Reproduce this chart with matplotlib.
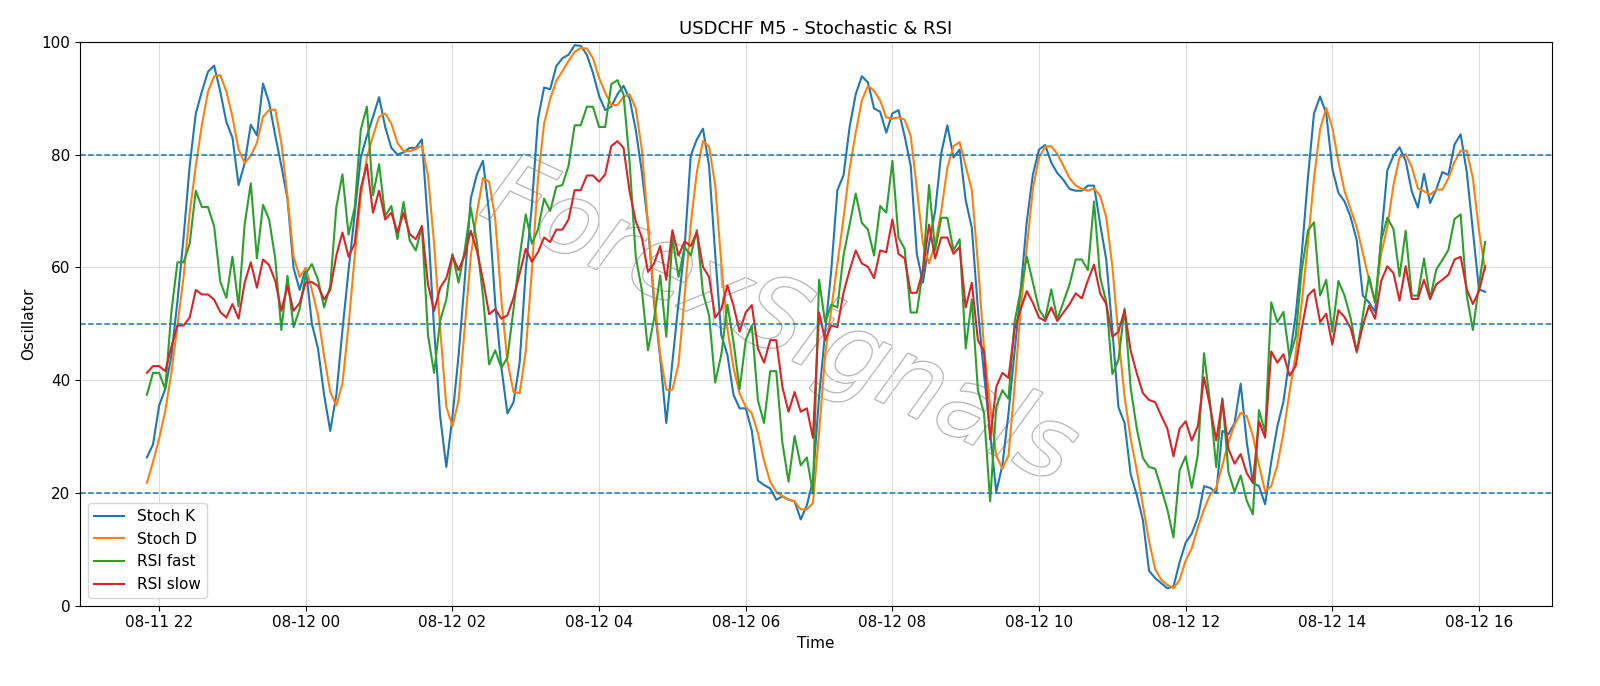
import matplotlib
matplotlib.use("Agg")
import matplotlib.pyplot as plt
import matplotlib.dates as mdates
import matplotlib.patheffects as pe
import pandas as pd

stoch_k = [26.3,28.6,35.5,38.4,44.3,54,65.3,78,87.3,91.2,94.7,95.8,91.2,85.8,83,74.6,78.5,85.3,83.4,92.6,89.2,83.4,78,72.2,59.9,56,59.9,
 50,45.6,37.4,31,37.4,48.9,59.5,69.4,79.5,83.3,86.7,90.2,84.9,81.2,80,80.4,81.2,81.2,82.7,67.7,49.1,33.5,24.6,33.5,
 44.3,57.6,72.2,76.5,78.9,69.7,53.7,42.3,34.1,36.1,43.1,59.5,71,86.3,91.9,91.6,95.7,97.1,97.7,99.4,99.3,97.7,94.5,90.4,
 87.9,88.5,90.7,92.2,89.9,84.4,76.9,67.7,53.7,44,32.4,43.3,53.7,63.6,79.8,82.7,84.6,78,62.4,48,44.5,37.4,35,35,
 31,22.2,21.4,20.8,18.8,19.4,18.8,18.5,15.3,17.8,22.2,37,48.6,59.5,73.7,76.3,84.9,90.7,93.9,92.8,88.2,87.6,83.9,87.3,
 87.9,83.3,78,62.4,57.3,64.2,70,80.3,85.2,79.5,80.9,71.9,67,52.6,41,30.6,20.2,24.9,34.1,45.1,56,68.2,76.5,80.9,
 81.7,78.6,76.7,75.5,73.9,73.6,73.6,74.5,74.5,67.7,61.4,48.9,35.2,32.4,23.3,19.6,15.2,6.2,4.9,4,3.1,3.4,7.7,11.2,
 12.8,15.7,21.2,20.9,20,31,30.4,32.4,39.4,29,21.8,21.2,18,25.5,31.8,36.2,44,51.5,62.5,75.8,87.3,90.3,87.3,77.5,73.2,
 71.7,68.9,64.8,55,53.8,52.1,65.4,77.2,79.8,81.3,78.9,73.5,70.6,76.6,71.4,73.8,76.9,76.4,81.8,83.6,76.9,66.5,56.1,55.7]

stoch_d = [21.8,25.5,29.6,34.5,41.3,49.7,58.3,69.7,78,85.3,91.2,93.9,94.1,91.2,86.7,80.9,78.5,79.8,82.1,86.7,87.9,88,82.1,72.6,61.9,58.3,59.9,
 56,51.5,44.3,37.9,35.5,39.4,49.7,61.9,72.6,79.5,83.3,86.7,87.3,85.5,82.1,80.6,80.6,81,81.6,76.3,64.2,49.1,35.3,31.8,
 36.4,49.1,61.9,69.7,75.8,75.2,68.7,54.3,43.3,37.9,37.7,45.1,59.5,75.7,85.5,89.9,93.1,94.8,96.6,98.2,98.9,98.8,97.1,93.6,
 91,88.8,88.8,90.2,90.7,88.2,80.9,67.7,54.9,44.5,38.3,38.3,42.8,54.9,67.7,76.9,82.4,81.4,74.6,60.7,49.1,42.2,37.6,35.3,
 34.1,30.6,25.7,22,20.2,19.4,18.8,18.5,17.1,17.1,18.2,30.6,44.5,52.6,60.7,68.7,77.5,83.9,89.6,92.2,91.3,89.6,86.6,86.4,
 86.6,86.2,83.3,74,64.2,60.7,64.2,70,77.7,81.5,82.2,78,73.7,60.7,45.6,35.3,26.6,24.3,26.6,38.8,52.6,63.6,74,79.5,
 81.4,81.5,80.1,78,75.8,74.5,73.9,73.6,74,72.7,68.9,60.2,47.7,37.1,29.6,24,17.7,11.5,6.5,4.6,3.7,3.1,4.6,8,
 10.2,13.9,17.1,19.7,20.9,24.9,29,32.1,34.2,33.6,30.1,24.9,20.3,21.2,24.9,30.7,37.9,44.6,53.8,64.2,75.8,84.5,88.3,84.8,78.7,
 73.5,70.3,67.1,62.5,57.9,53.8,62.5,67.1,74.6,79.5,80.1,77.8,74,73.5,72.9,73.8,73.8,75.8,78.7,80.7,80.7,75.8,66.5,59.6]

rsi_fast = [37.4,41.3,41.3,38.4,52.1,60.9,60.9,64.2,73.6,70.7,70.7,67.3,57.5,54.6,61.9,53.1,67.7,74.9,61.6,71.1,68.5,61.6,48.9,58.5,49.4,52.6,58.9,
 60.6,57.8,52.9,56.7,70.7,76.5,65.8,70.6,84.4,88.5,72.8,78.3,69.1,70.9,65,71.6,64.8,63,67.3,48,41.3,50.6,54.3,62.4,
 57.3,63,70.6,64.5,54.9,42.8,45.3,42.2,44,52.6,61.9,69.4,64.2,66.7,72.2,70,74.3,74.6,78,85.2,85.2,88.5,88.5,84.9,
 84.9,92.5,93.2,90.7,78.6,61.9,56,45.3,50.9,58.6,47.7,65.3,58.3,63.6,62.1,66.6,55.5,51.5,39.6,44.5,53.4,46.8,38.4,47.1,
 49.7,36.4,32.4,41.6,41.6,28.9,22,30.1,24.9,26.3,19.9,57.8,50.3,53.4,52.9,62.1,67.6,73.1,67.9,66.7,62.1,70.9,69.7,78.9,
 65.3,63.3,52,52,59.5,74.6,63,68.8,68.8,63,65,45.6,54.3,38.2,34.1,18.5,35.3,38.2,36.7,50.3,56,61.9,57.3,52.6,
 50.8,56.1,50.8,53.9,57,61.4,61.4,59.5,71.7,58.3,53.9,41.1,43.6,52.7,38.6,31.4,26.2,24.6,24.3,20.8,17.1,12.1,24,26.5,
 20.9,26.9,44.8,35.9,24.6,36.8,23.7,20.2,23.1,18.6,16.2,34.7,30.7,53.8,50.3,52.1,44,47.7,59.6,66.5,68,55,57.8,48.6,57.6,
 55,51,44.9,51.5,58.4,53.8,64.8,68.8,66.8,58.4,66.5,55,55,61.6,54.4,59.6,61.3,63.1,68.6,69.4,55,48.9,56.7,64.5]

rsi_slow = [41.3,42.5,42.5,41.6,45.9,49.7,49.7,51.1,56,55.2,55.2,54.3,52.1,51.1,53.5,50.9,57.3,60.9,56.4,61.4,60.4,57.6,52.3,56.7,52.3,53.7,57.3,
 57.4,56.7,54.3,56,62.1,66.2,61.9,64.2,74,78.3,69.7,73.6,68.5,69.7,66.2,69.7,65.9,65,67.3,57,52.3,56.4,58.1,62.1,
 59.5,62.1,66.5,63,57.8,51.7,52.6,50.9,51.5,54.6,58.9,63.3,61,62.7,65.3,64.5,66.7,66.7,68.5,73.7,73.7,76.3,76.3,75.2,
 76.5,81.5,82.4,81.2,73.4,68.2,65.3,59.2,60.7,63.8,57.8,66.6,62.1,64.6,63.8,66.2,60.1,58.3,51.1,52.6,56.8,53.2,48.6,52,
 53.3,45.6,43.1,47.1,47.1,38.8,34.4,37.9,34.4,35,29.8,52,47.1,49.7,49.4,55.5,59.5,63,60.7,60.1,58.1,63,62.7,68.5,
 62.4,61.6,55.5,55.5,59.5,67.6,61.6,65.3,65.3,62.4,63.6,52.9,57.3,47.1,45.1,29.5,38.8,41.3,40.4,49.1,52.6,55.8,53.7,51.1,
 50.5,52.9,50.5,52,53.5,55.4,54.5,57.7,60.5,55.4,53.5,47.7,48.6,52.4,45.2,41.2,37.7,36.5,36.1,33.7,31.4,26.5,31.4,32.7,
 29.3,31.9,40.5,35.3,29.3,36.5,27.8,25.2,26.9,23.5,21.8,32.7,29.8,45.1,43.1,44.6,40.8,42.5,49.2,55,56.1,50.3,51.8,46.3,52.4,
 51.2,49.2,45.1,49.7,53.2,50.9,57.6,60.2,59,54.1,60.2,54.4,54.4,57.8,54.4,57,57.8,58.7,61.4,61.9,56.1,53.5,55.8,60.2]

levels = [80, 50, 20]
start = "2024-08-11 21:50"

def times(n):
    return pd.date_range(start, periods=n, freq="5min")

fig = plt.figure(figsize=(16, 6.86), dpi=100)
ax = fig.add_axes([0.05, 0.117, 0.92, 0.822])
ax.plot(times(len(stoch_k)), stoch_k, color="#1f77b4", lw=1.5, label="Stoch K")
ax.plot(times(len(stoch_d)), stoch_d, color="#ff7f0e", lw=1.5, label="Stoch D")
ax.plot(times(len(rsi_fast)), rsi_fast, color="#2ca02c", lw=1.5, label="RSI fast")
ax.plot(times(len(rsi_slow)), rsi_slow, color="#d62728", lw=1.5, label="RSI slow")
for lv in levels:
    ax.axhline(lv, color="#1f77b4", ls="--", lw=1.1)
ax.set_ylim(0, 100)
ax.grid(True, color="#dddddd", lw=0.8)
ax.xaxis.set_major_locator(mdates.HourLocator(byhour=range(0, 24, 2)))
ax.xaxis.set_major_formatter(mdates.DateFormatter("%m-%d %H"))
ax.set_title("USDCHF M5 - Stochastic & RSI", fontsize=13)
ax.set_xlabel("Time", fontsize=11)
ax.set_ylabel("Oscillator", fontsize=11)
ax.tick_params(labelsize=11)
ax.legend(loc="lower left", fontsize=11)
ax.text(0.475, 0.5, "ForexSignals", transform=ax.transAxes, fontsize=72, color="white",
        rotation=-25, ha="center", va="center", style="italic", zorder=0,
        path_effects=[pe.withStroke(linewidth=2, foreground="#bbbbbb")])
fig.savefig("out.png", dpi=100)
